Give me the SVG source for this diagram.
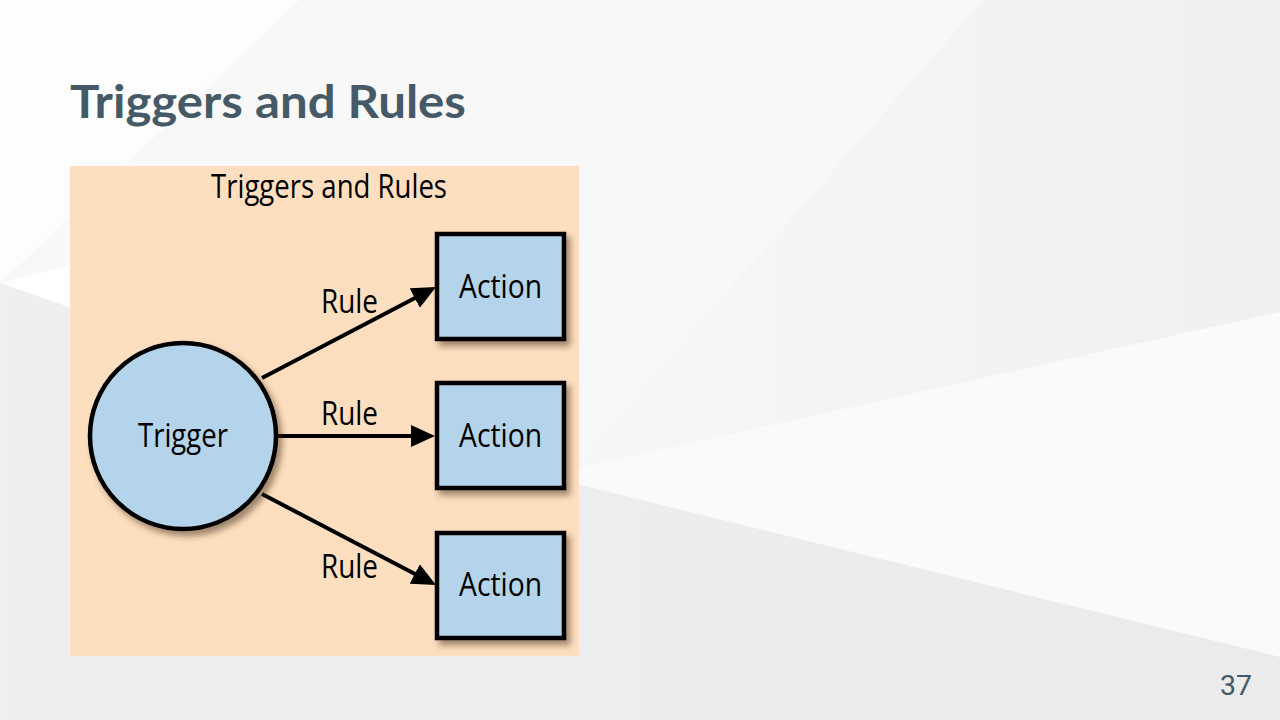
<svg xmlns="http://www.w3.org/2000/svg" width="1280" height="720" viewBox="0 0 1280 720">
  <defs>
    <style>
      .title { font-family: Lato, "Open Sans", "Liberation Sans", sans-serif; font-weight: 700; font-size: 46px; fill: #465966; }
      .pgnum { font-family: Roboto, "Liberation Sans", sans-serif; font-size: 28px; fill: #465966; }
      .lbl { font-family: "Open Sans", "Noto Sans", "Liberation Sans", sans-serif; font-size: 33px; fill: #000; }
      .node { fill: #B3D4EA; stroke: #000; stroke-width: 4.5; }
      .edge { stroke: #000; stroke-width: 4; fill: none; }
    </style>
    <linearGradient id="gA" x1="0" y1="0" x2="1" y2="0">
      <stop offset="0" stop-color="#F7F7F7"/>
      <stop offset="1" stop-color="#F0F0F0"/>
    </linearGradient>
    <linearGradient id="gB" x1="0" y1="0" x2="1" y2="0">
      <stop offset="0" stop-color="#EFEFEF"/>
      <stop offset="1" stop-color="#EBEBEB"/>
    </linearGradient>
    <filter id="sh" x="-20%" y="-20%" width="150%" height="150%">
      <feDropShadow dx="4" dy="5" stdDeviation="3" flood-color="#3a2a10" flood-opacity="0.5"/>
    </filter>
    <marker id="arr" viewBox="0 0 24 22" refX="16" refY="11" markerWidth="24" markerHeight="22" markerUnits="userSpaceOnUse" orient="auto">
      <path d="M0,0 L24,11 L0,22 Z" fill="#000"/>
    </marker>
  </defs>

  <g id="background">
    <rect x="0" y="0" width="1280" height="720" fill="#F8F8F8"/>
    <polygon points="0,0 300,0 0,283" fill="#FDFDFD"/>
    <polygon points="983,0 1280,0 1280,312 570,470" fill="url(#gA)"/>
    <polygon points="570,470 1280,312 1280,657 580,485" fill="#FAFAFA"/>
    <polygon points="0,283 70,265 580,470 580,485" fill="#FFFFFF"/>
    <polygon points="0,283 580,485 1280,657 1280,720 0,720" fill="url(#gB)"/>
  </g>

  <text class="title" x="70" y="118" textLength="396" lengthAdjust="spacingAndGlyphs">Triggers and Rules</text>
  <text class="pgnum" x="1220" y="695" textLength="32" lengthAdjust="spacingAndGlyphs">37</text>

  <g id="panel">
    <rect x="70" y="166" width="509" height="490" fill="#FDDFBF"/>
    <text class="lbl" x="211" y="198" textLength="236" lengthAdjust="spacingAndGlyphs">Triggers and Rules</text>
  </g>

  <g id="connectors">
    <line class="edge" x1="262" y1="378" x2="428.9" y2="290.7" marker-end="url(#arr)"/>
    <line class="edge" x1="278" y1="436" x2="427" y2="436" marker-end="url(#arr)"/>
    <line class="edge" x1="262" y1="494" x2="428.9" y2="581.3" marker-end="url(#arr)"/>
    <text class="lbl" x="321" y="313" textLength="57" lengthAdjust="spacingAndGlyphs">Rule</text>
    <text class="lbl" x="321" y="425" textLength="57" lengthAdjust="spacingAndGlyphs">Rule</text>
    <text class="lbl" x="321" y="578" textLength="57" lengthAdjust="spacingAndGlyphs">Rule</text>
  </g>

  <g id="trigger">
    <circle class="node" cx="183" cy="436" r="93" filter="url(#sh)"/>
    <text class="lbl" x="138" y="447" textLength="90" lengthAdjust="spacingAndGlyphs">Trigger</text>
  </g>

  <g id="action1">
    <rect class="node" x="437" y="234" width="127" height="105" filter="url(#sh)"/>
    <text class="lbl" x="459" y="298" textLength="83" lengthAdjust="spacingAndGlyphs">Action</text>
  </g>
  <g id="action2">
    <rect class="node" x="437" y="383" width="127" height="105" filter="url(#sh)"/>
    <text class="lbl" x="459" y="447" textLength="83" lengthAdjust="spacingAndGlyphs">Action</text>
  </g>
  <g id="action3">
    <rect class="node" x="437" y="533" width="127" height="105" filter="url(#sh)"/>
    <text class="lbl" x="459" y="596" textLength="83" lengthAdjust="spacingAndGlyphs">Action</text>
  </g>
</svg>
